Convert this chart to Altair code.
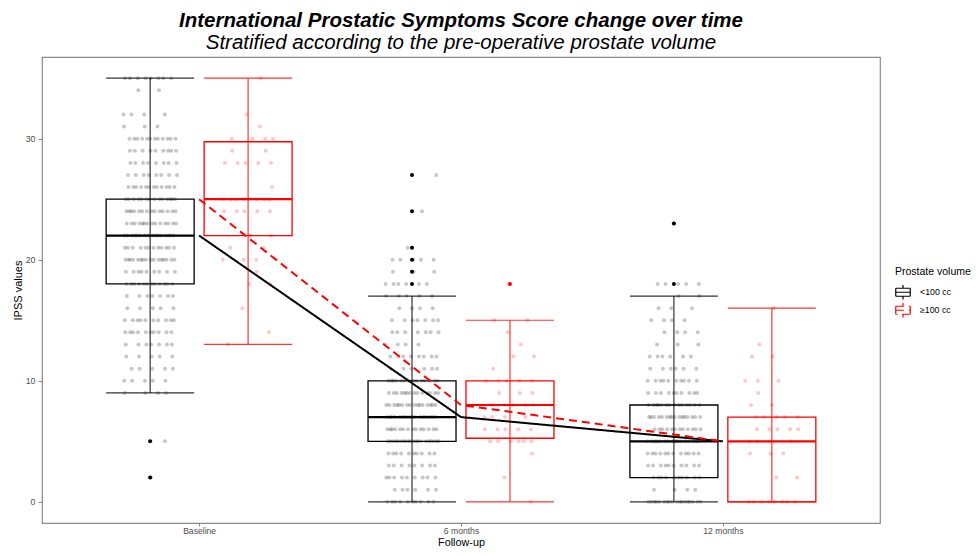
import altair as alt
import pandas as pd

# ---------------- data ----------------
categories = ["Baseline", "6 months", "12 months"]
volumes = ["<100 cc", "≥100 cc"]
colors = ["#000000", "#FF0000"]

# box-plot summaries per category (Baseline, 6 months, 12 months)
whisker_low_lt100 = [9, 0, 0]
q1_lt100 = [18, 5, 2]
median_lt100 = [22, 7, 5]
q3_lt100 = [25, 10, 8]
whisker_high_lt100 = [35, 17, 17]

whisker_low_ge100 = [13, 0, 0]
q1_ge100 = [22, 5.25, 0]
median_ge100 = [25, 8, 5]
q3_ge100 = [29.75, 10, 7]
whisker_high_ge100 = [35, 15, 16]

outliers_lt100 = [[5, 2], [27, 24, 21, 20, 19, 18], [23, 18]]
outliers_ge100 = [[], [18], []]

# individual IPSS values: (score, number of patients)
scores_lt100_baseline = [(35, 8), (34, 2), (32, 4), (31, 3), (30, 12), (29, 9), (28, 8), (27, 8),
                         (26, 12), (25, 14), (24, 14), (23, 14), (22, 16), (21, 12), (20, 16),
                         (19, 9), (18, 12), (17, 7), (16, 5), (15, 10), (14, 10), (13, 7),
                         (12, 5), (11, 5), (10, 5), (9, 4), (5, 1), (2, 1)]
scores_lt100_6m = [(27, 1), (24, 1), (21, 1), (20, 5), (19, 3), (18, 6), (17, 5), (16, 4),
                   (15, 7), (14, 7), (13, 4), (12, 8), (11, 6), (10, 14), (9, 14), (8, 16),
                   (7, 18), (6, 14), (5, 20), (4, 10), (3, 8), (2, 9), (1, 6), (0, 10)]
scores_lt100_12m = [(23, 1), (18, 5), (17, 2), (16, 3), (15, 4), (14, 4), (13, 3), (12, 6),
                    (11, 6), (10, 10), (9, 10), (8, 14), (7, 16), (6, 12), (5, 16), (4, 12),
                    (3, 10), (2, 10), (1, 4), (0, 18)]
scores_ge100_baseline = [(35, 1), (32, 1), (31, 1), (30, 4), (29, 2), (28, 5), (26, 1), (25, 8),
                         (24, 5), (22, 2), (21, 2), (20, 3), (19, 1), (18, 2), (16, 1), (14, 1),
                         (13, 1)]
scores_ge100_6m = [(18, 1), (15, 2), (14, 1), (13, 1), (12, 2), (11, 1), (10, 5), (9, 3), (8, 5),
                   (7, 4), (6, 5), (5, 6), (4, 1), (2, 1), (0, 1)]
scores_ge100_12m = [(16, 1), (13, 1), (12, 2), (10, 3), (9, 1), (8, 2), (7, 5), (6, 5), (5, 4),
                    (4, 3), (2, 2), (0, 8)]

# ---------------- table building ----------------
DODGE = 0.187      # dodge offset (category units)
BOX_HALF = 0.168   # half box width
JIT = 0.103        # jitter half width

summ = {
    volumes[0]: (whisker_low_lt100, q1_lt100, median_lt100, q3_lt100, whisker_high_lt100, outliers_lt100,
                 [scores_lt100_baseline, scores_lt100_6m, scores_lt100_12m]),
    volumes[1]: (whisker_low_ge100, q1_ge100, median_ge100, q3_ge100, whisker_high_ge100, outliers_ge100,
                 [scores_ge100_baseline, scores_ge100_6m, scores_ge100_12m]),
}

box_rows, pt_rows, out_rows, line_rows = [], [], [], []
for vi, vol in enumerate(volumes):
    lo, q1, med, q3, hi, outs, scores = summ[vol]
    sign = -1 if vi == 0 else 1
    for ci, cat in enumerate(categories):
        c = ci + 1 + sign * DODGE
        box_rows.append(dict(volume=vol, center=c, left=c - BOX_HALF, right=c + BOX_HALF,
                             lo=lo[ci], q1=q1[ci], med=med[ci], q3=q3[ci], hi=hi[ci]))
        line_rows.append(dict(volume=vol, pos=ci + 1, median=med[ci]))
        for o in outs[ci]:
            out_rows.append(dict(volume=vol, pos=c, score=o))
        for s, n in scores[ci]:
            seed = (s * 0.7548 + ci * 0.5698 + vi * 0.3183) % 1.0
            for k in range(n):
                u = (seed + k * 0.6180339) % 1.0
                pt_rows.append(dict(volume=vol, pos=c + (2 * u - 1) * JIT, score=s))

box_df = pd.DataFrame(box_rows)
pt_df = pd.DataFrame(pt_rows)
out_df = pd.DataFrame(out_rows)
line_df = pd.DataFrame(line_rows)

# ---------------- encodings ----------------
FONT = "Liberation Sans"
label_expr = " : ".join(
    [f"datum.value == {i + 1} ? '{c}'" for i, c in enumerate(categories[:-1])] + [f"'{categories[-1]}'"]
)
x_scale = alt.Scale(domain=[0.4, 3.6], nice=False, zero=False)
y_scale = alt.Scale(domain=[-1.75, 36.75], nice=False, zero=False)
x_axis = alt.Axis(values=[1, 2, 3], labelExpr=label_expr, title="Follow-up", grid=False)
y_axis = alt.Axis(values=[0, 10, 20, 30], title="IPSS values", grid=False)
color_scale = alt.Scale(domain=volumes, range=colors)
col_noleg = alt.Color("volume:N", scale=color_scale, legend=None)

# box-plot key drawn as separate line segments (no enclosed area)
legend_path = ("M-1,-0.55L1,-0.55 M1,-0.55L1,0.55 M1,0.55L-1,0.55 M-1,0.55L-1,-0.55 "
               "M-1,0L1,0 M0,-0.55L0,-1 M0,0.55L0,1")

base_box = alt.Chart(box_df)

whisker = base_box.mark_rule(strokeWidth=1.2, opacity=0.8).encode(
    x=alt.X("center:Q", scale=x_scale, axis=x_axis),
    y=alt.Y("lo:Q", scale=y_scale, axis=y_axis),
    y2="hi:Q",
    color=alt.Color("volume:N", scale=color_scale,
                    legend=alt.Legend(title="Prostate volume", symbolType=legend_path,
                                      orient="none", legendX=853, legendY=210,
                                      symbolFillColor="transparent", symbolOpacity=1)),
)
box = base_box.mark_rect(filled=False, strokeWidth=1.3).encode(
    x=alt.X("left:Q", scale=x_scale, axis=x_axis), x2="right:Q",
    y=alt.Y("q1:Q", scale=y_scale, axis=y_axis), y2="q3:Q",
    color=col_noleg,
)
cap_lo = base_box.mark_rule(strokeWidth=1.2, opacity=0.8).encode(
    x=alt.X("left:Q", scale=x_scale, axis=x_axis), x2="right:Q",
    y=alt.Y("lo:Q", scale=y_scale, axis=y_axis), color=col_noleg,
)
cap_hi = base_box.mark_rule(strokeWidth=1.2, opacity=0.8).encode(
    x=alt.X("left:Q", scale=x_scale, axis=x_axis), x2="right:Q",
    y=alt.Y("hi:Q", scale=y_scale, axis=y_axis), color=col_noleg,
)
median_rule = base_box.mark_rule(strokeWidth=2.2).encode(
    x=alt.X("left:Q", scale=x_scale, axis=x_axis), x2="right:Q",
    y=alt.Y("med:Q", scale=y_scale, axis=y_axis), color=col_noleg,
)
points = alt.Chart(pt_df).mark_circle(size=16, opacity=0.22).encode(
    x=alt.X("pos:Q", scale=x_scale, axis=x_axis),
    y=alt.Y("score:Q", scale=y_scale, axis=y_axis),
    color=col_noleg,
)
outliers = alt.Chart(out_df).mark_circle(size=16, opacity=1).encode(
    x=alt.X("pos:Q", scale=x_scale, axis=x_axis),
    y=alt.Y("score:Q", scale=y_scale, axis=y_axis),
    color=col_noleg,
)
lines = alt.Chart(line_df).mark_line(strokeWidth=2).encode(
    x=alt.X("pos:Q", scale=x_scale, axis=x_axis),
    y=alt.Y("median:Q", scale=y_scale, axis=y_axis),
    color=col_noleg,
    strokeDash=alt.StrokeDash("volume:N", scale=alt.Scale(domain=volumes, range=[[1, 0], [8, 5]]),
                              legend=None),
)

chart = alt.layer(whisker, box, cap_lo, cap_hi, points, outliers, median_rule, lines).properties(
    width=838,
    height=466,
    autosize=alt.AutoSizeParams(type="none"),
    padding={"left": 34, "top": 49, "right": 92, "bottom": 25},
    title=alt.Title(
        text="International Prostatic Symptoms Score change over time",
        subtitle="Stratified according to the pre-operative prostate volume",
        anchor="middle", frame="group", offset=4,
        font=FONT, fontSize=20.5, fontStyle="italic", fontWeight="bold", color="black",
        subtitleFont=FONT, subtitleFontSize=20.5, subtitleFontStyle="italic",
        subtitleFontWeight="normal", subtitleColor="black", subtitlePadding=1,
    ),
).configure_view(
    stroke="#8a8a8a", strokeWidth=1.2
).configure_axis(
    domain=False, tickColor="#8a8a8a", tickSize=4, tickWidth=1,
    labelFont=FONT, labelFontSize=8.8, labelColor="#4d4d4d", labelPadding=3,
    titleFont=FONT, titleFontSize=11, titleFontWeight="normal", titleColor="black",
).configure_axisX(
    tickSize=3, labelPadding=0, labelFontSize=8.6,
    titleFontSize=10.8, titleBaseline="alphabetic", titleY=22
).configure_axisY(
    titlePadding=2
).configure_legend(
    titleFont=FONT, titleFontSize=10.5, titleFontWeight="normal", titleColor="black",
    labelFont=FONT, labelFontSize=8.8, labelColor="black", symbolFillColor="transparent",
    symbolSize=210, symbolStrokeWidth=1.2, rowPadding=0, clipHeight=17.5,
    labelOffset=9, titlePadding=6,
)

chart.save("out.html", embed_options={"renderer": "svg", "actions": False})
